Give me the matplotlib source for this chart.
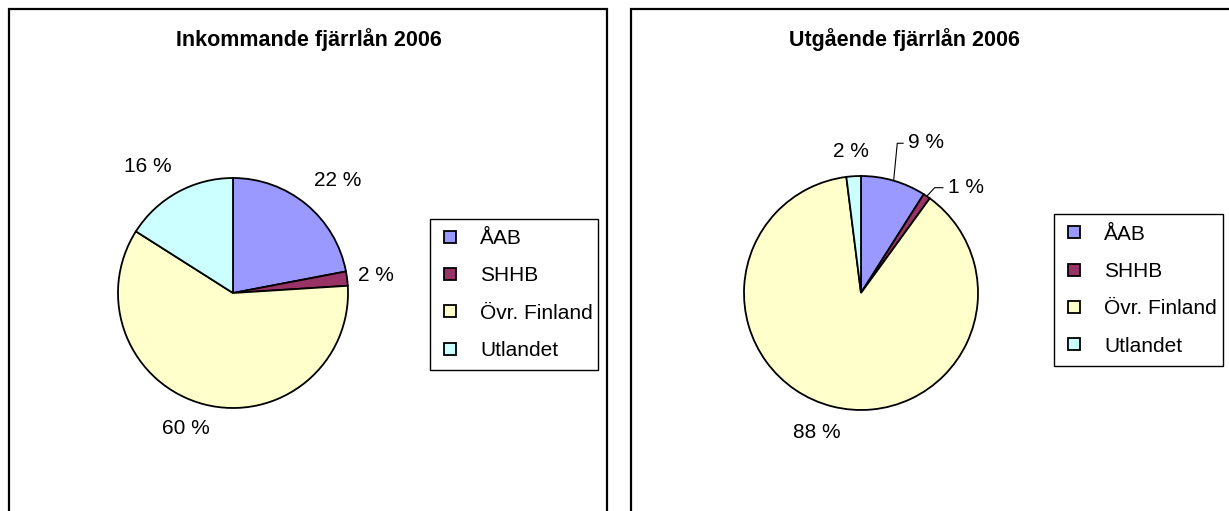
import numpy as np
import matplotlib
matplotlib.use("Agg")
import matplotlib.pyplot as plt
from matplotlib.patches import Rectangle
from matplotlib.lines import Line2D

plt.rcParams['font.family'] = ['Liberation Sans', 'DejaVu Sans']

categories = ["ÅAB", "SHHB", "Övr. Finland", "Utlandet"]
colors = ["#9999FF", "#993366", "#FFFFCC", "#CCFFFF"]

title_in = "Inkommande fjärrlån 2006"
values_in = [22, 2, 60, 16]

title_out = "Utgående fjärrlån 2006"
values_out = [9, 1, 88, 2]

W, H = 1229, 511
fig = plt.figure(figsize=(W / 100, H / 100), dpi=100)


def fx(px):
    return px / W


def fy(py):
    return (H - py) / H


# panel frames
fig.add_artist(Rectangle((fx(8.5), fy(560)), fx(607) - fx(8.5), fy(9) - fy(560),
                         transform=fig.transFigure, fill=False,
                         edgecolor="black", linewidth=1.6))
fig.add_artist(Rectangle((fx(631), fy(560)), fx(1300) - fx(631), fy(9) - fy(560),
                         transform=fig.transFigure, fill=False,
                         edgecolor="black", linewidth=1.6))


def draw_pie(cx, cy, r, values, title, title_x, label_pos, leaders,
             legend_box):
    ax = fig.add_axes([fx(cx - r), fy(cy + r), 2 * r / W, 2 * r / H])
    wedges, _ = ax.pie(values, colors=colors, startangle=90, counterclock=False,
                       radius=1.0,
                       wedgeprops=dict(edgecolor="black", linewidth=1.3))
    ax.set_xlim(-1, 1)
    ax.set_ylim(-1, 1)
    ax.set_aspect("auto")
    ax.axis("off")
    for i, (w, v) in enumerate(zip(wedges, values)):
        lx, ly = label_pos[i]
        if i in leaders:
            mid = np.deg2rad((w.theta1 + w.theta2) / 2)
            ex, ey = np.cos(mid), np.sin(mid)
            (bx, by), (tx, ty) = leaders[i]
            ax.plot([ex, bx, tx], [ey, by, ty], color="black", lw=0.8,
                    clip_on=False)
            ax.text(lx, ly, f"{v} %", ha="left", va="center", fontsize=15,
                    clip_on=False)
        else:
            ax.text(lx, ly, f"{v} %", ha="center", va="center", fontsize=15,
                    clip_on=False)
    fig.text(fx(title_x), fy(40), title, ha="center", va="center",
             fontsize=15.5, fontweight="bold")
    handles = [Line2D([], [], marker="s", linestyle="none", markersize=9,
                      markerfacecolor=c, markeredgecolor="black",
                      markeredgewidth=1.3) for c in colors]
    x0, y0, x1, y1 = legend_box
    leg = fig.legend(handles, categories, loc="center left",
                     bbox_to_anchor=(fx(x0), fy(y1), fx(x1) - fx(x0),
                                     fy(y0) - fy(y1)),
                     bbox_transform=fig.transFigure, mode="expand",
                     fontsize=15, frameon=True, fancybox=False,
                     borderpad=0.5, labelspacing=0.88, handlelength=0.9,
                     handletextpad=1.0, borderaxespad=0.0)
    leg.get_frame().set_edgecolor("black")
    leg.get_frame().set_linewidth(1.0)
    leg.get_frame().set_alpha(1)


draw_pie(233, 293, 115, values_in, title_in, 309,
         label_pos=[(0.91, 0.98), (1.24, 0.15), (-0.41, -1.18), (-0.74, 1.10)],
         leaders={}, legend_box=(430, 218, 598, 371))

draw_pie(861, 293, 117, values_out, title_out, 904,
         label_pos=[(0.40, 1.29), (0.74, 0.90), (-0.38, -1.19), (-0.09, 1.21)],
         leaders={0: ((0.31, 1.28), (0.36, 1.28)),
                  1: ((0.63, 0.90), (0.70, 0.90))},
         legend_box=(1054, 214, 1223, 366))

fig.savefig("out.png", dpi=100)
